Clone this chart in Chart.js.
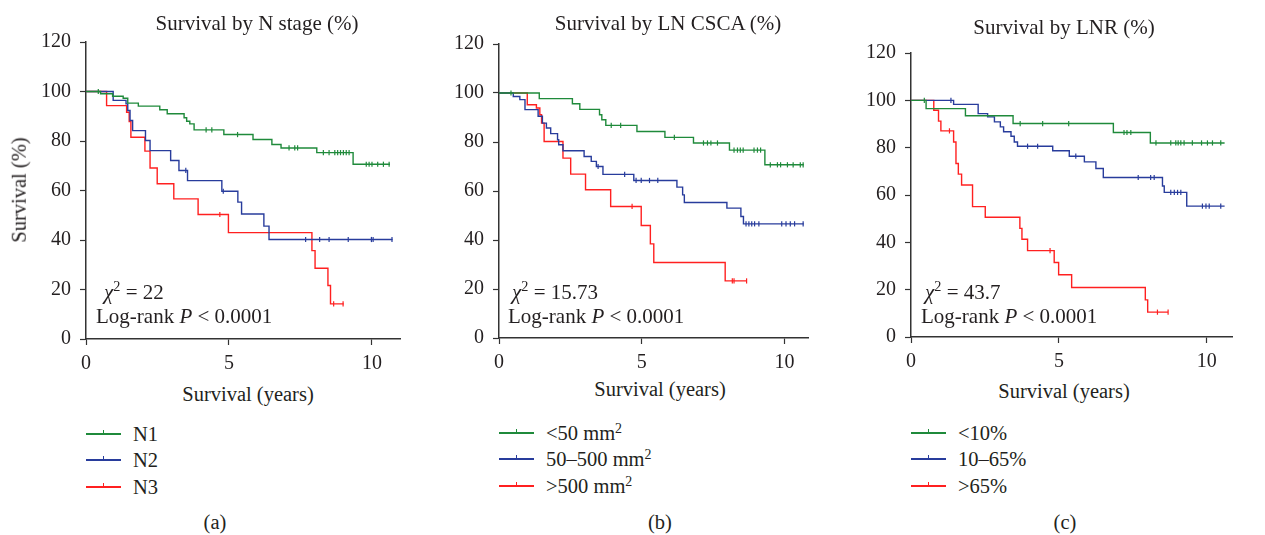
<!DOCTYPE html>
<html>
<head>
<meta charset="utf-8">
<script src="https://cdn.jsdelivr.net/npm/chart.js@4.4.1/dist/chart.umd.min.js"></script>
<style>
  body { margin: 0; background: #fff; }
  #wrap { position: relative; width: 1265px; height: 535px; font-family: "Liberation Serif", "Times New Roman", serif; color: #231f20; overflow: hidden; }
  canvas { position: absolute; }
  .txt { position: absolute; white-space: nowrap; font-size: 20.5px; line-height: 1; }
  .ttl { font-size: 21px; }
  .c { transform: translate(-50%, -50%); }
  .ann { font-size: 21px; transform: translateY(-50%); }
  .ann i { font-style: italic; }
  sup { font-size: 0.68em; vertical-align: 0.5em; line-height: 0; }
  .leg { position: absolute; font-size: 20.5px; line-height: 1; white-space: nowrap; }
  .leg .row { position: absolute; left: 0; height: 0; }
  .leg .ln { position: absolute; left: 0; top: -1px; width: 35px; height: 1.6px; }
  .leg .tk { position: absolute; left: 17px; top: -4px; width: 1.3px; height: 4px; }
  .leg .lt { position: absolute; left: 47px; top: 0; transform: translateY(-50%); }
</style>
</head>
<body>
<div id="wrap">
  <canvas id="chartA" width="410" height="375" style="left:0;top:0"></canvas>
  <canvas id="chartB" width="405" height="374" style="left:413px;top:0"></canvas>
  <canvas id="chartC" width="417" height="373" style="left:825px;top:0"></canvas>
</div>
<script>
// --- Colours ---
const GREEN = '#1f8a3b';
const BLUE = '#283c9c';
const RED = '#ff2020';
const AXIS = '#333333';

// --- Panel (a): N stage ---
const n1Times = [0, 0.51, 0.93, 1.30, 1.46, 1.83, 2.58, 2.84, 3.43, 3.52, 3.63, 3.78, 4.82, 5.84, 6.50, 6.82, 8.07, 9.34, 10.63];
const n1Surv = [100, 99.1, 98.1, 97.3, 95.3, 94.1, 92.6, 91.0, 89.4, 88.0, 86.9, 84.5, 82.6, 80.6, 78.6, 77.2, 75.3, 70.6, 70.6];
const n1Cens = [0.43, 4.2, 4.4, 5.3, 7.1, 7.3, 7.4, 8.3, 8.5, 8.7, 8.8, 8.9, 9.0, 9.1, 9.2, 9.8, 9.9, 10.0, 10.2, 10.4, 10.6];

const n2Times = [0, 0.95, 1.40, 1.46, 1.54, 1.63, 2.08, 2.24, 2.96, 3.25, 3.55, 4.75, 5.31, 5.44, 6.22, 6.40, 10.72];
const n2Surv = [100, 96.4, 95.0, 92.3, 88.3, 84.2, 80.2, 76.1, 72.1, 68.1, 64.0, 59.7, 55.3, 50.5, 45.6, 40.2, 40.2];
const n2Cens = [3.49, 4.8, 7.68, 8.17, 8.50, 9.17, 9.98, 10.04, 10.7];

const n3Times = [0, 0.72, 1.42, 1.51, 1.57, 2.06, 2.24, 2.49, 3.07, 3.92, 4.98, 7.90, 8.01, 8.46, 8.55, 9.01];
const n3Surv = [100, 94.3, 91.6, 87.9, 81.5, 75.9, 69.1, 62.7, 56.6, 50.3, 43.0, 35.7, 28.6, 21.6, 14.2, 14.2];
const n3Cens = [4.68, 8.66, 8.99];

// --- Panel (b): LN CSCA ---
const csLowTimes = [0, 1.41, 2.57, 2.83, 3.52, 3.60, 3.74, 4.83, 5.81, 6.81, 8.07, 9.31, 10.67];
const csLowSurv = [100, 97.7, 95.6, 93.3, 91.1, 89.1, 86.8, 84.3, 81.9, 79.6, 76.7, 70.7, 70.7];
const csLowCens = [0.42, 3.93, 4.26, 6.14, 7.16, 7.30, 7.42, 7.65, 8.23, 8.35, 8.45, 8.55, 8.93, 9.05, 9.16, 9.5, 9.75, 9.86, 10.1, 10.3, 10.55, 10.65];

const csMidTimes = [0, 0.50, 0.73, 0.91, 1.37, 1.52, 1.66, 1.81, 2.05, 2.09, 2.24, 2.98, 3.23, 3.41, 3.64, 4.72, 6.23, 6.43, 6.49, 7.98, 8.47, 8.56, 10.67];
const csMidSurv = [100, 98.6, 97.3, 93.2, 90.5, 87.7, 85.7, 83.4, 80.9, 78.9, 76.4, 74.1, 72.1, 70.0, 66.8, 64.3, 61.6, 58.4, 55.3, 53.0, 49.6, 46.6, 46.6];
const csMidCens = [3.47, 4.4, 4.8, 4.98, 5.27, 5.56, 8.65, 8.75, 8.85, 8.95, 9.1, 9.9, 10.05, 10.2, 10.35, 10.65];

const csHighTimes = [0, 0.99, 1.31, 1.43, 1.49, 1.58, 2.24, 2.51, 3.03, 3.91, 4.98, 5.30, 5.42, 7.92, 8.67];
const csHighSurv = [100, 95.2, 93.9, 91.1, 87.7, 80.2, 73.4, 66.9, 60.5, 53.7, 45.9, 38.4, 30.8, 23.3, 23.3];
const csHighCens = [4.66, 8.17, 8.23, 8.67];

// --- Panel (c): LNR ---
const lnrLowTimes = [0, 0.51, 1.84, 3.45, 6.84, 8.09, 10.6];
const lnrLowSurv = [100, 96.5, 93.5, 90.2, 86.4, 82.0, 82.0];
const lnrLowCens = [0.45, 3.69, 4.45, 5.33, 7.2, 7.3, 7.43, 8.28, 8.78, 8.95, 9.03, 9.12, 9.23, 9.51, 9.82, 10.02, 10.19, 10.47];

const lnrMidTimes = [0, 1.44, 2.27, 2.59, 2.82, 3.02, 3.13, 3.38, 3.49, 3.60, 4.79, 5.35, 5.86, 6.25, 6.50, 8.50, 8.56, 9.32, 10.6];
const lnrMidSurv = [100, 98.3, 94.4, 93.0, 90.9, 88.8, 86.7, 84.8, 82.4, 80.6, 78.7, 76.4, 74.0, 71.2, 67.4, 63.8, 61.1, 55.3, 55.3];
const lnrMidCens = [1.35, 3.94, 4.28, 5.57, 7.68, 8.1, 8.22, 8.78, 8.9, 9.01, 9.12, 9.85, 9.97, 10.08, 10.47];

const lnrHighTimes = [0, 0.77, 0.93, 1.01, 1.44, 1.52, 1.60, 1.71, 2.08, 2.51, 3.68, 3.75, 3.94, 4.84, 4.99, 5.43, 7.92, 8.00, 8.69];
const lnrHighSurv = [100, 95.8, 91.2, 87.1, 82.4, 73.3, 68.8, 64.2, 55.1, 50.6, 45.9, 41.3, 36.5, 31.5, 26.3, 20.9, 15.7, 10.5, 10.5];
const lnrHighCens = [1.3, 4.7, 8.33, 8.69];

// --- Text ---
const panelTitles = ['Survival by N stage (%)', 'Survival by LN CSCA (%)', 'Survival by LNR (%)'];
const nStageLabels = ['N1', 'N2', 'N3'];
const csLabels = ['&lt;50 mm<sup>2</sup>', '50&ndash;500 mm<sup>2</sup>', '&gt;500 mm<sup>2</sup>'];
const lnrLabels = ['&lt;10%', '10&ndash;65%', '&gt;65%'];
const chiValues = ['22', '15.73', '43.7'];
const panelTags = ['(a)', '(b)', '(c)'];
const yTicks = [0, 20, 40, 60, 80, 100, 120];
const xTicks = [0, 5, 10];

// --- Helpers ---
function survAt(times, surv, t) {
  let s = surv[0];
  for (let i = 0; i < times.length; i++) {
    if (times[i] <= t) s = surv[i];
  }
  return s;
}
function group(times, surv, cens, color) {
  return { times, surv, cens, color };
}

function makePanel(canvasId, groups, opts) {
  const datasets = [];
  groups.forEach(g => {
    datasets.push({
      type: 'line',
      data: g.times.map((t, i) => ({ x: t, y: g.surv[i] })),
      stepped: 'before',
      borderColor: g.color,
      borderWidth: 1.4,
      pointRadius: 0,
      fill: false
    });
    datasets.push({
      type: 'scatter',
      data: g.cens.map(t => ({ x: t, y: survAt(g.times, g.surv, t) })),
      pointStyle: 'line',
      rotation: 90,
      radius: 2.6,
      borderColor: g.color,
      borderWidth: 1.2
    });
  });
  const font = { family: '"Liberation Serif", serif', size: 20 };
  return new Chart(document.getElementById(canvasId), {
    data: { datasets },
    options: {
      responsive: false,
      animation: false,
      events: [],
      layout: { padding: { top: opts.padTop, right: opts.padRight, left: 0, bottom: 0 } },
      plugins: { legend: { display: false }, tooltip: { enabled: false } },
      scales: {
        x: {
          type: 'linear',
          min: 0,
          max: opts.xMax,
          afterBuildTicks: s => { s.ticks = xTicks.map(v => ({ value: v })); },
          ticks: { font, color: '#231f20', padding: 7, maxRotation: 0 },
          grid: { drawOnChartArea: false, drawTicks: true, tickLength: 6, color: AXIS, tickWidth: 1.2 },
          border: { color: AXIS, width: 1.5 },
          afterFit: s => { s.height = opts.xHeight; }
        },
        y: {
          type: 'linear',
          min: 0,
          max: 120,
          afterBuildTicks: s => { s.ticks = yTicks.map(v => ({ value: v })); },
          ticks: { font, color: '#231f20', padding: 9 },
          grid: { drawOnChartArea: false, drawTicks: true, tickLength: 6, color: AXIS, tickWidth: 1.2 },
          border: { color: AXIS, width: 1.5 },
          afterFit: s => { s.width = 86; }
        }
      }
    }
  });
}

// --- Charts ---
makePanel('chartA', [
  group(n1Times, n1Surv, n1Cens, GREEN),
  group(n2Times, n2Surv, n2Cens, BLUE),
  group(n3Times, n3Surv, n3Cens, RED)
], { xMax: 10.98, padTop: 42, padRight: 10, xHeight: 36 });

makePanel('chartB', [
  group(csLowTimes, csLowSurv, csLowCens, GREEN),
  group(csMidTimes, csMidSurv, csMidCens, BLUE),
  group(csHighTimes, csHighSurv, csHighCens, RED)
], { xMax: 10.82, padTop: 44, padRight: 10, xHeight: 36 });

makePanel('chartC', [
  group(lnrLowTimes, lnrLowSurv, lnrLowCens, GREEN),
  group(lnrMidTimes, lnrMidSurv, lnrMidCens, BLUE),
  group(lnrHighTimes, lnrHighSurv, lnrHighCens, RED)
], { xMax: 10.85, padTop: 53, padRight: 10, xHeight: 36 });

// --- HTML text ---
const wrap = document.getElementById('wrap');
function addText(html, x, y, cls) {
  const d = document.createElement('div');
  d.className = 'txt ' + cls;
  d.style.left = x + 'px';
  d.style.top = y + 'px';
  d.innerHTML = html;
  wrap.appendChild(d);
  return d;
}
const titlePos = [[257, 23], [668, 23], [1064, 27]];
const xTitlePos = [[248, 394], [660, 389], [1064, 391]];
const tagPos = [[215, 522], [660, 522], [1065, 522]];
const annPos = [[104, 96, 292, 316], [512, 508, 292, 316], [925, 921, 292, 316]];
const legendPos = [[86, [434, 460, 487]], [499, [433, 459, 486]], [911, [433, 459, 486]]];
const legendLabels = [nStageLabels, csLabels, lnrLabels];
const legendColors = [GREEN, BLUE, RED];

panelTitles.forEach((t, i) => {
  addText(t, titlePos[i][0], titlePos[i][1], 'c ttl');
  addText('Survival (years)', xTitlePos[i][0], xTitlePos[i][1], 'c');
  addText(panelTags[i], tagPos[i][0], tagPos[i][1], 'c');
  const a = annPos[i];
  addText('<i>&chi;</i><sup>2</sup> = ' + chiValues[i], a[0], a[2], 'ann');
  addText('Log-rank <i>P</i> &lt; 0.0001', a[1], a[3], 'ann');
  // legend
  const lp = legendPos[i];
  const leg = document.createElement('div');
  leg.className = 'leg';
  leg.style.left = lp[0] + 'px';
  leg.style.top = '0px';
  legendLabels[i].forEach((lab, k) => {
    const row = document.createElement('div');
    row.className = 'row';
    row.style.top = lp[1][k] + 'px';
    row.innerHTML = '<div class="ln" style="background:' + legendColors[k] + '"></div>' +
      '<div class="tk" style="background:' + legendColors[k] + '"></div>' +
      '<div class="lt">' + lab + '</div>';
    leg.appendChild(row);
  });
  wrap.appendChild(leg);
});

const yTitle = addText('Survival (%)', 19, 190, 'c');
yTitle.style.transform = 'translate(-50%, -50%) rotate(-90deg)';
</script>
</body>
</html>
